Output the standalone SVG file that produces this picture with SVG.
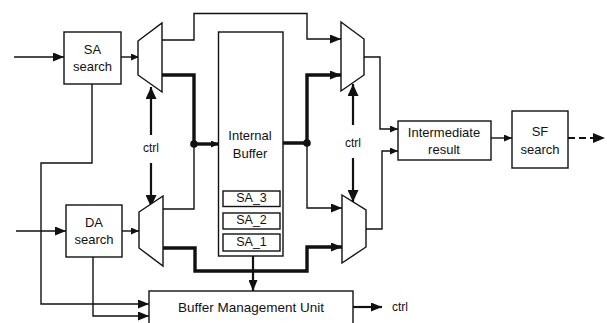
<svg xmlns="http://www.w3.org/2000/svg" width="607" height="323" viewBox="0 0 607 323">
  <defs>
    <marker id="ah" markerUnits="userSpaceOnUse" markerWidth="11" markerHeight="9" refX="11" refY="4.5" orient="auto">
      <path d="M0,0 L11,4.5 L0,9 z" fill="#111"/>
    </marker>
    <marker id="ahs" markerUnits="userSpaceOnUse" markerWidth="8" markerHeight="7" refX="8" refY="3.5" orient="auto">
      <path d="M0,0 L8,3.5 L0,7 z" fill="#111"/>
    </marker>
    <marker id="ahb" markerUnits="userSpaceOnUse" markerWidth="12" markerHeight="11" refX="12" refY="5.5" orient="auto">
      <path d="M0,0 L12,5.5 L0,11 z" fill="#111"/>
    </marker>
  </defs>
  <style>
    .box { fill: #fff; stroke: #111; stroke-width: 1.4; }
    .mux { fill: #fff; stroke: #111; stroke-width: 1.4; stroke-linejoin: miter; }
    .thin { fill: none; stroke: #111; stroke-width: 1.4; }
    .mid { fill: none; stroke: #111; stroke-width: 2.2; }
    .thick { fill: none; stroke: #111; stroke-width: 3.4; }
    .dash { fill: none; stroke: #111; stroke-width: 2.2; stroke-dasharray: 7 4; }
    .dot { fill: #111; }
    text { font-family: "Liberation Sans", Arial, sans-serif; font-size: 13px; fill: #111; text-anchor: middle; }
    .small { font-size: 12px; }
    .slot { font-size: 12.5px; }
  </style>

  <!-- connectors -->
  <g id="connectors">
    <!-- inputs -->
    <path class="thin" d="M14,57 H64" marker-end="url(#ah)"/>
    <path class="thin" d="M16,231 H66" marker-end="url(#ah)"/>
    <path class="thin" d="M121,57 H139" marker-end="url(#ahs)"/>
    <path class="thin" d="M122,231 H139" marker-end="url(#ahs)"/>
    <!-- upper demux: bypass over the buffer -->
    <path class="thin" d="M162,40 H194 V13.5 H307 V39 H341" marker-end="url(#ah)"/>
    <!-- upper demux: into buffer -->
    <path class="thick" d="M162,75 H194 V144"/>
    <path class="thick" d="M194,144 H219" marker-end="url(#ahs)"/>
    <!-- lower demux: into buffer -->
    <path class="thin" d="M163,209 H194 V144"/>
    <!-- lower demux: bypass under the buffer -->
    <path class="thick" d="M163,248 H195 V271 H307 V247 H342" marker-end="url(#ah)"/>
    <!-- buffer output -->
    <path class="thick" d="M283,143 H307 V75 H341" marker-end="url(#ah)"/>
    <path class="thin" d="M307,143 V208 H342" marker-end="url(#ah)"/>
    <circle class="dot" cx="194" cy="144" r="3.8"/>
    <circle class="dot" cx="307" cy="143" r="3.8"/>
    <!-- mux outputs to intermediate result -->
    <path class="thin" d="M364,57 H380 V129 H398" marker-end="url(#ahs)"/>
    <path class="thin" d="M366,229 H382 V151 H398" marker-end="url(#ahs)"/>
    <!-- result to SF search and onward -->
    <path class="thin" d="M491,138 H512" marker-end="url(#ahs)"/>
    <path class="dash" d="M568,138 H594"/>
    <path d="M593,133 L605,138 L593,143 z" fill="#111"/>
    <!-- buffer to management unit -->
    <path class="mid" d="M253,256 V291" marker-end="url(#ah)"/>
    <path class="mid" d="M353,307 H382" marker-end="url(#ah)"/>
    <!-- search units to management unit -->
    <path class="thin" d="M92,84 V163 H41 V304 H149" marker-end="url(#ah)"/>
    <path class="thin" d="M93,257 V316 H149" marker-end="url(#ah)"/>
    <!-- control lines -->
    <path class="mid" d="M151,135 V87" marker-end="url(#ahb)"/>
    <path class="mid" d="M151,163 V207" marker-end="url(#ahb)"/>
    <path class="mid" d="M353,125 V84" marker-end="url(#ahb)"/>
    <path class="mid" d="M353,158 V202" marker-end="url(#ahb)"/>
  </g>

  <g id="sa-search">
    <rect class="box" x="64" y="32" width="57" height="52"/>
    <text x="92.5" y="54">SA</text>
    <text x="92.5" y="71">search</text>
  </g>

  <g id="da-search">
    <rect class="box" x="66" y="205" width="56" height="52"/>
    <text x="94" y="227">DA</text>
    <text x="94" y="244">search</text>
  </g>

  <g id="demux-upper">
    <polygon class="mux" points="138,41 162,23 162,92 138,75"/>
  </g>
  <g id="demux-lower">
    <polygon class="mux" points="139,212 163,196 163,266 139,248"/>
  </g>
  <g id="mux-upper">
    <polygon class="mux" points="341,22 364,39 364,75 341,91"/>
  </g>
  <g id="mux-lower">
    <polygon class="mux" points="342,195 366,210 366,247 342,263"/>
  </g>

  <g id="internal-buffer">
    <rect class="box" x="218.5" y="32" width="64.5" height="224"/>
    <text x="250" y="140">Internal</text>
    <text x="250" y="158">Buffer</text>
    <rect class="box" x="223" y="191" width="57" height="15.5"/>
    <text class="slot" x="251.5" y="202">SA_3</text>
    <rect class="box" x="223" y="213" width="57" height="16"/>
    <text class="slot" x="251.5" y="224">SA_2</text>
    <rect class="box" x="223" y="234" width="57" height="17"/>
    <text class="slot" x="251.5" y="246">SA_1</text>
  </g>

  <g id="ctrl-left">
    <text class="small" x="151" y="152">ctrl</text>
  </g>
  <g id="ctrl-right">
    <text class="small" x="353" y="147">ctrl</text>
  </g>

  <g id="intermediate-result">
    <rect class="box" x="398" y="121" width="93" height="39"/>
    <text x="444" y="137">Intermediate</text>
    <text x="444" y="154">result</text>
  </g>

  <g id="sf-search">
    <rect class="box" x="512" y="111" width="56" height="57"/>
    <text x="540" y="136">SF</text>
    <text x="540" y="154">search</text>
  </g>

  <g id="buffer-management-unit">
    <rect class="box" x="149" y="291" width="204" height="40"/>
    <text x="251" y="312" style="font-size:13.5px">Buffer Management Unit</text>
  </g>
  <g id="ctrl-out">
    <text class="small" x="392" y="311" style="text-anchor:start">ctrl</text>
  </g>
</svg>
